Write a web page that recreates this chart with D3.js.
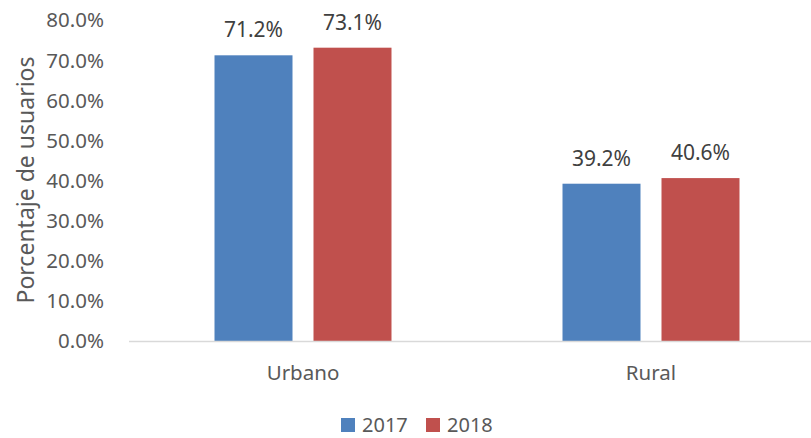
<!DOCTYPE html>
<html>
<head>
<meta charset="utf-8">
<script src="https://cdn.jsdelivr.net/npm/d3@7"></script>
<style>
  body { margin: 0; background: #fff; }
  text { font-family: "Noto Sans", "Open Sans", sans-serif; }
</style>
</head>
<body>
<svg id="chart" width="811" height="438"></svg>
<script>
// data
const categories = ['Urbano', 'Rural']
const years = ['2017', '2018']
const values2017 = [71.2, 39.2]
const values2018 = [73.1, 40.6]
const yTicks = [0, 10, 20, 30, 40, 50, 60, 70, 80]
const colors = ['#4F81BD', '#C0504D']

const rows = categories.map((c, i) => ({ cat: c, vals: [values2017[i], values2018[i]] }))

let svg = d3.select('#chart')

let x = d3.scaleBand()
    .domain(categories)
    .range([129, 825])
    .paddingInner(0.4914)
    .paddingOuter(0.2457)

let xInner = d3.scaleBand()
    .domain(years)
    .range([0, x.bandwidth()])
    .paddingInner(21 / 99)

let y = d3.scaleLinear()
    .domain([0, 80])
    .range([341, 20])

// y tick labels
svg.append('g')
    .selectAll('text')
    .data(yTicks)
    .enter()
    .append('text')
    .attr('x', 104)
    .attr('y', d => y(d))
    .attr('dy', '0.36em')
    .attr('text-anchor', 'end')
    .attr('fill', '#595959')
    .style('font-size', '20.5px')
    .text(d => d3.format('.1f')(d) + '%')

// y title
svg.append('text')
    .attr('transform', 'translate(34,180) rotate(-90)')
    .attr('text-anchor', 'middle')
    .attr('fill', '#595959')
    .style('font-size', '23px')
    .text('Porcentaje de usuarios')

// bars
let groups = svg.append('g')
    .selectAll('g')
    .data(rows)
    .enter()
    .append('g')
    .attr('transform', d => 'translate(' + x(d.cat) + ',0)')

groups.selectAll('rect')
    .data(d => d.vals.map((v, i) => ({ year: years[i], v: v, i: i })))
    .enter()
    .append('rect')
    .attr('x', d => xInner(d.year))
    .attr('width', xInner.bandwidth())
    .attr('y', d => y(d.v))
    .attr('height', d => y(0) - y(d.v))
    .attr('fill', d => colors[d.i])

groups.selectAll('text')
    .data(d => d.vals.map((v, i) => ({ year: years[i], v: v })))
    .enter()
    .append('text')
    .attr('x', d => xInner(d.year) + xInner.bandwidth() / 2)
    .attr('y', d => y(d.v) - 18)
    .attr('text-anchor', 'middle')
    .attr('fill', '#404040')
    .style('font-size', '21px')
    .text(d => d3.format('.1f')(d.v) + '%')

// baseline
svg.append('line')
    .attr('x1', 129)
    .attr('x2', 825)
    .attr('y1', y(0) + 0.5)
    .attr('y2', y(0) + 0.5)
    .attr('stroke', '#D9D9D9')
    .attr('stroke-width', 1.5)

// category labels
svg.append('g')
    .selectAll('text')
    .data(categories)
    .enter()
    .append('text')
    .attr('x', d => x(d) + x.bandwidth() / 2)
    .attr('y', 380)
    .attr('text-anchor', 'middle')
    .attr('fill', '#595959')
    .style('font-size', '20.5px')
    .text(d => d)

// legend
let legend = svg.append('g')
    .selectAll('g')
    .data(years)
    .enter()
    .append('g')
    .attr('transform', (d, i) => 'translate(' + (341 + i * 85) + ',418)')

legend.append('rect')
    .attr('width', 14)
    .attr('height', 14)
    .attr('fill', (d, i) => colors[i])

legend.append('text')
    .attr('x', 21)
    .attr('y', 14)
    .attr('fill', '#595959')
    .style('font-size', '20px')
    .text(d => d)
</script>
</body>
</html>
